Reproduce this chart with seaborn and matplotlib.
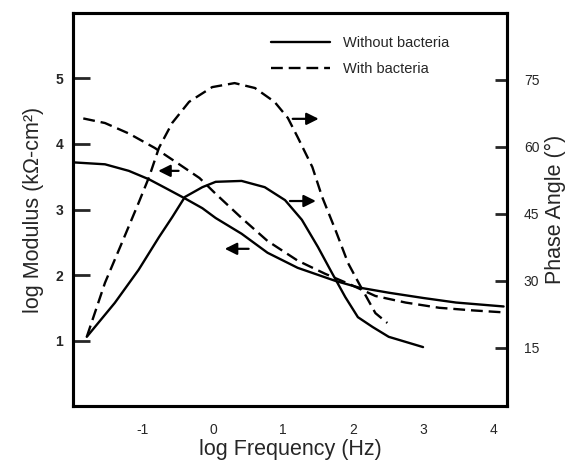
import matplotlib
matplotlib.use('Agg')
import matplotlib.pyplot as plt
import seaborn as sns
from matplotlib.lines import Line2D

# log frequency (Hz) / log modulus (kOhm-cm2)
mod_without_x = [-2.00, -1.54, -1.20, -0.91, -0.68, -0.40, -0.15, 0.04, 0.41, 0.78,
                 1.21, 1.75, 2.08, 2.51, 3.00, 3.47, 4.15]
mod_without_y = [3.72, 3.69, 3.59, 3.46, 3.33, 3.17, 3.02, 2.87, 2.63, 2.34,
                 2.11, 1.91, 1.81, 1.73, 1.65, 1.58, 1.52]

mod_with_x = [-1.85, -1.54, -1.20, -0.83, -0.48, -0.19, 0.04, 0.41, 0.78, 1.21,
              1.60, 1.93, 2.32, 2.75, 3.23, 3.71, 4.15]
mod_with_y = [4.39, 4.32, 4.16, 3.94, 3.69, 3.48, 3.24, 2.87, 2.52, 2.22,
              2.02, 1.87, 1.68, 1.58, 1.50, 1.46, 1.43]

# phase angle (deg)
ph_without_x = [-1.80, -1.40, -1.06, -0.77, -0.58, -0.40, -0.15, 0.04, 0.41, 0.74,
                1.03, 1.27, 1.50, 1.70, 1.89, 2.07, 2.28, 2.51, 3.00]
ph_without_y = [17.5, 25.1, 32.5, 39.8, 44.3, 48.8, 51.0, 52.2, 52.4, 51.0,
                48.1, 43.7, 37.6, 31.8, 26.4, 21.9, 19.7, 17.5, 15.2]

ph_with_x = [-1.80, -1.54, -1.30, -1.06, -0.91, -0.77, -0.58, -0.34, -0.01, 0.31,
             0.60, 0.88, 1.07, 1.21, 1.42, 1.56, 1.75, 1.93, 2.08, 2.32, 2.49]
ph_with_y = [17.5, 29.6, 38.5, 47.5, 53.3, 59.8, 65.4, 70.1, 73.4, 74.3,
             73.2, 70.1, 66.5, 62.2, 55.5, 48.8, 41.4, 34.0, 29.6, 22.8, 20.6]

x_ticks = [-1, 0, 1, 2, 3, 4]
mod_ticks = [1, 2, 3, 4, 5]
ph_ticks = [15, 30, 45, 60, 75]

sns.set_style('white')
plt.rcParams['font.family'] = ['Liberation Sans', 'DejaVu Sans']
plt.rcParams['axes.unicode_minus'] = False

fig = plt.figure(figsize=(5.73, 4.63), dpi=100)
ax = fig.add_axes([0.127, 0.123, 0.758, 0.849])
ax2 = ax.twinx()

lw = 1.7
dash = (5, 2.5)
sns.lineplot(x=mod_without_x, y=mod_without_y, ax=ax, color='black', lw=lw)
sns.lineplot(x=mod_with_x, y=mod_with_y, ax=ax, color='black', lw=lw, linestyle=(0, dash))
sns.lineplot(x=ph_without_x, y=ph_without_y, ax=ax2, color='black', lw=lw)
sns.lineplot(x=ph_with_x, y=ph_with_y, ax=ax2, color='black', lw=lw, linestyle=(0, dash))

ax.set_xlim(-2.0, 4.2)
ax.set_ylim(0, 6)
ax2.set_ylim(2, 90)

# arrows pointing to the axis each curve belongs to
arrow = dict(arrowstyle='-|>', color='black', lw=1.6, mutation_scale=18)
ax.annotate('', xy=(-0.82, 3.59), xytext=(-0.45, 3.59), arrowprops=arrow)
ax.annotate('', xy=(0.13, 2.40), xytext=(0.55, 2.40), arrowprops=arrow)
ax2.annotate('', xy=(1.55, 66.3), xytext=(1.10, 66.3), arrowprops=arrow)
ax2.annotate('', xy=(1.51, 47.9), xytext=(1.06, 47.9), arrowprops=arrow)

ax.set_xticks(x_ticks)
ax.set_yticks(mod_ticks)
ax2.set_yticks(ph_ticks)
ax.tick_params(axis='x', direction='in', length=9, width=2, labelsize=10, pad=12)
ax.tick_params(axis='y', direction='in', length=12, width=2, labelsize=10, pad=7, left=True)
ax2.tick_params(axis='y', direction='in', length=9, width=2, labelsize=10, pad=12, right=True)
for t in ax.get_yticklabels():
    t.set_fontweight('bold')

for a in (ax, ax2):
    for s in a.spines.values():
        s.set_linewidth(2.2)
        s.set_color('black')

ax.set_xlabel('log Frequency (Hz)', fontsize=15.5, labelpad=2)
ax.set_ylabel('log Modulus (k\u03a9-cm\u00b2)', fontsize=15.5, labelpad=8)
ax2.set_ylabel('Phase Angle (\u00b0)', fontsize=15.5, labelpad=4)

handles = [Line2D([], [], color='black', lw=lw),
           Line2D([], [], color='black', lw=lw, linestyle=(0, dash))]
ax.legend(handles, ['Without bacteria', 'With bacteria'], loc='upper left',
          bbox_to_anchor=(0.43, 0.972), frameon=False, fontsize=10.5,
          handlelength=4.0, handletextpad=0.9, labelspacing=0.85,
          borderpad=0.3)

fig.savefig('out.png', dpi=100)
